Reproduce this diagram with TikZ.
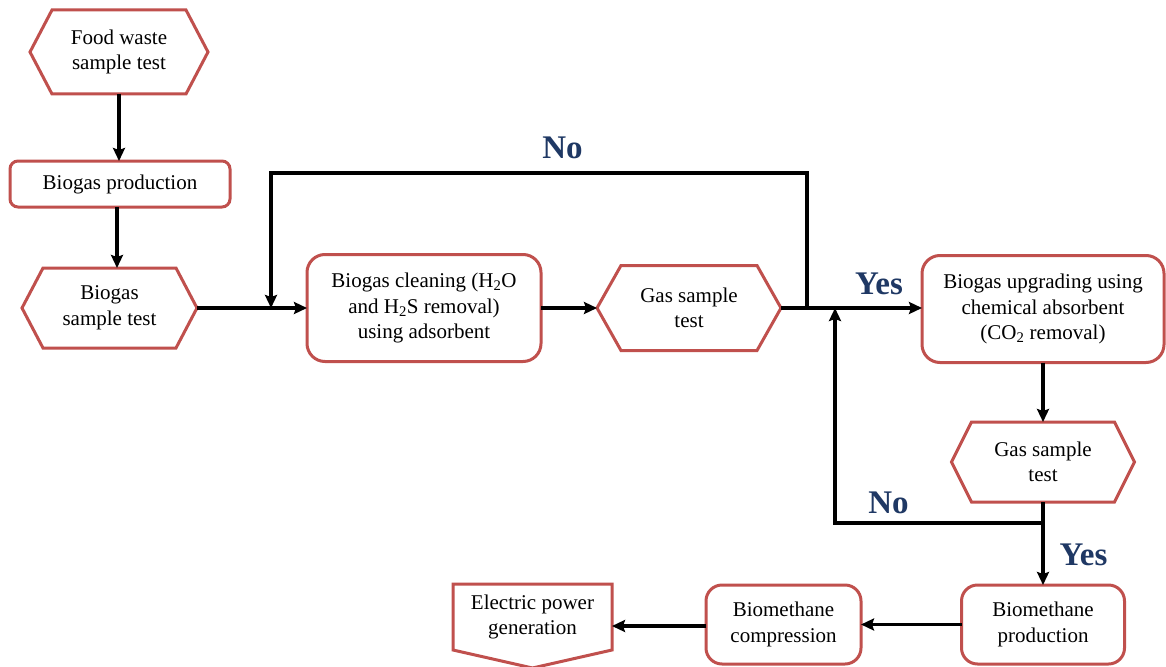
\documentclass[tikz,border=0pt]{standalone}
\usepackage{fontspec}
\setmainfont{Liberation Serif}
\usetikzlibrary{calc,arrows.meta}
\definecolor{frameRed}{HTML}{C0504D}
\definecolor{labelBlue}{HTML}{1F3864}
\tikzset{
  txt/.style={align=center, inner sep=0pt, outer sep=0pt, font=\fontsize{21}{25.5}\selectfont},
  rbox/.style={txt, draw=frameRed, line width=3pt, fill=white, rounded corners=#1},
  rbox/.default=16pt,
  frame/.style={draw=frameRed, line width=3pt, line join=miter},
  conn/.style={draw=black, line width=3.5pt, line join=miter},
  arr/.style={conn, -{Stealth[length=13pt, width=12pt, inset=2pt]}},
  lbl/.style={inner sep=0pt, text=labelBlue, font=\fontsize{33}{36}\selectfont\bfseries}
}
\newcommand\hexframe[2]{\draw[frame] ($(#1.north west)+(#2,0)$) -- ($(#1.north east)+(-#2,0)$) -- (#1.east) -- ($(#1.south east)+(-#2,0)$) -- ($(#1.south west)+(#2,0)$) -- (#1.west) -- cycle;}
\begin{document}
\begin{tikzpicture}[x=1pt,y=-1pt]
\useasboundingbox[fill=white] (0,0) rectangle (1166,666);
% nodes
\node[txt, minimum width=178pt, minimum height=84pt] (fw) at (119,52) {Food waste\\sample test};
\node[rbox=8pt, minimum width=220pt, minimum height=46pt] (bp) at (120,184) {Biogas production};
\node[txt, minimum width=175pt, minimum height=80pt] (bst) at (109.5,308) {Biogas\\sample test};
\node[rbox=18pt, minimum width=234pt, minimum height=107pt] (bc) at (424,308) {Biogas cleaning (H\textsubscript{2}O\\and H\textsubscript{2}S removal)\\using adsorbent};
\node[txt, minimum width=184pt, minimum height=85pt] (gst1) at (689,308) {Gas sample\\test};
\node[rbox=18pt, minimum width=242pt, minimum height=107pt] (bu) at (1043,309) {Biogas upgrading using\\chemical absorbent\\(CO\textsubscript{2} removal)};
\node[txt, minimum width=183pt, minimum height=80pt] (gst2) at (1043,462) {Gas sample\\test};
\node[rbox=16pt, minimum width=163pt, minimum height=79pt] (bmp) at (1043,624.5) {Biomethane\\production};
\node[rbox=16pt, minimum width=155pt, minimum height=79pt] (bmc) at (783.5,624.5) {Biomethane\\compression};
\node[txt, minimum width=159pt, minimum height=66pt] (epg) at (532.5,617) {Electric power\\generation};
% frames
\hexframe{fw}{22}
\hexframe{bst}{21}
\hexframe{gst1}{24}
\hexframe{gst2}{20}
\draw[frame] (epg.north west) -- (epg.north east) -- (epg.south east) -- ($(epg.south)+(0,18)$) -- (epg.south west) -- cycle;
% coordinates
\coordinate (j1) at ($(gst1.east)+(26,0)$);
\coordinate (c1) at (807,173);
\coordinate (c2) at (271,173);
\coordinate (m1) at (c2 |- bst.east);
\coordinate (j2) at (1043,523);
\coordinate (c3) at (835,523);
\coordinate (j3) at (c3 |- gst1.east);
% connectors
\draw[arr] (fw.south) -- (fw.south |- bp.north);
\draw[arr] ([xshift=-3pt]bp.south) -- ([xshift=-3pt]bp.south |- bst.north);
\draw[arr] (bst.east) -- (bst.east -| bc.west);
\draw[arr] (bc.east) -- (bc.east -| gst1.west);
\draw[arr] (gst1.east) -- (gst1.east -| bu.west);
\draw[arr] (j1) -- (c1) -- (c2) -- (m1);
\draw[arr] (bu.south) -- (bu.south |- gst2.north);
\draw[arr] (gst2.south) -- (gst2.south |- bmp.north);
\draw[arr] (j2) -- (c3) -- (j3);
\draw[arr] (bmp.west) -- (bmp.west -| bmc.east);
\draw[arr] ([yshift=-1.5pt]bmc.west) -- ([yshift=-1.5pt]bmc.west -| epg.east);
% labels
\node[lbl] (lno1) at (562.5,147.5) {No};
\node[lbl] (lyes1) at (879,284) {Yes};
\node[lbl] (lno2) at (888.5,502.5) {No};
\node[lbl] (lyes2) at (1083.5,555) {Yes};
\end{tikzpicture}
\end{document}
